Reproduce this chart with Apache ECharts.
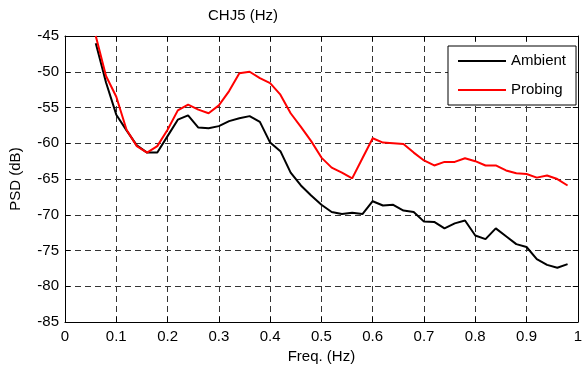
<!DOCTYPE html>
<html>
<head>
<meta charset="utf-8">
<script src="https://cdn.jsdelivr.net/npm/echarts@6/dist/echarts.min.js"></script>
<style>html,body{margin:0;padding:0;background:#fff}#c{width:585px;height:369px}</style>
</head>
<body>
<div id="c"></div>
<script>
const freq = [0.06,0.08,0.10,0.12,0.14,0.16,0.18,0.20,0.22,0.24,0.26,0.28,0.30,0.32,0.34,0.36,0.38,0.40,0.42,0.44,0.46,0.48,0.50,0.52,0.54,0.56,0.58,0.60,0.62,0.64,0.66,0.68,0.70,0.72,0.74,0.76,0.78,0.80,0.82,0.84,0.86,0.88,0.90,0.92,0.94,0.96,0.98];
const ambient = [-46,-51.5,-56,-58.2,-60.3,-61.3,-61.3,-59.0,-56.7,-56.1,-57.8,-57.9,-57.6,-56.9,-56.5,-56.2,-57.0,-59.9,-61.1,-64.1,-65.9,-67.3,-68.6,-69.6,-69.9,-69.7,-69.9,-68.1,-68.7,-68.6,-69.4,-69.6,-70.95,-71.0,-71.9,-71.2,-70.8,-72.9,-73.4,-71.9,-73.0,-74.1,-74.5,-76.2,-77.0,-77.4,-76.9];
const probing = [-45,-50.6,-53.5,-58.1,-60.4,-61.3,-60.4,-58.1,-55.4,-54.6,-55.3,-55.8,-54.7,-52.7,-50.2,-50.0,-50.9,-51.6,-53.2,-55.8,-57.7,-59.7,-62.0,-63.4,-64.1,-64.9,-62.1,-59.3,-59.9,-60.0,-60.1,-61.3,-62.4,-63.1,-62.6,-62.6,-62.1,-62.5,-63.1,-63.1,-63.8,-64.2,-64.3,-64.8,-64.5,-65.0,-65.9];
const seriesNames = ['Ambient','Probing'];
const titleText = 'CHJ5 (Hz)';
const xName = 'Freq. (Hz)';
const yName = 'PSD (dB)';

const FONT = '"Liberation Sans", Arial, sans-serif';
const chart = echarts.init(document.getElementById('c'), null, {renderer:'canvas'});
const gridDash = {show:true, lineStyle:{color:'#333', width:1, type:[6,4]}};
const tick = {show:true, inside:true, length:5, lineStyle:{color:'#000', width:1}};
const line = {show:true, onZero:false, lineStyle:{color:'#000', width:1}};
chart.setOption({
  animation:false,
  backgroundColor:'#fff',
  title:{text:titleText, left:208, top:8, padding:0,
    textStyle:{fontFamily:FONT, fontSize:15, fontWeight:'normal', color:'#000'}},
  legend:{
    data:seriesNames.map(n=>({name:n, icon:'rect'})),
    orient:'vertical', left:448, top:46,
    itemWidth:48, itemHeight:2, itemGap:13,
    padding:[7,10,7,10],
    borderColor:'#000', borderWidth:1, backgroundColor:'#fff',
    textStyle:{fontFamily:FONT, fontSize:15, color:'#000', lineHeight:16}
  },
  grid:{left:63, right:2, top:36, bottom:45, containLabel:false},
  xAxis:[{
    type:'value', min:0, max:1, interval:0.1,
    name:xName, nameLocation:'middle', nameGap:23,
    nameTextStyle:{fontFamily:FONT, fontSize:15, color:'#000'},
    axisLine:line, axisTick:tick,
    axisLabel:{fontFamily:FONT, fontSize:15, color:'#000', margin:7,
      formatter:v=>String(+v.toFixed(1))},
    splitLine:gridDash
  },{
    type:'value', min:0, max:1, interval:0.1, position:'top',
    axisLine:line, axisTick:tick, axisLabel:{show:false}, splitLine:{show:false}
  }],
  yAxis:[{
    type:'value', min:-85, max:-45, interval:5,
    name:yName, nameLocation:'middle', nameGap:42,
    nameTextStyle:{fontFamily:FONT, fontSize:15, color:'#000'},
    axisLine:line, axisTick:tick,
    axisLabel:{fontFamily:FONT, fontSize:15, color:'#000', margin:6},
    splitLine:gridDash
  },{
    type:'value', min:-85, max:-45, interval:5, position:'right',
    axisLine:line, axisTick:tick, axisLabel:{show:false}, splitLine:{show:false}
  }],
  series:[{
    name:seriesNames[0], type:'line', xAxisIndex:0, yAxisIndex:0,
    data:freq.map((f,i)=>[f, ambient[i]]),
    showSymbol:false, lineStyle:{color:'#000', width:2}, itemStyle:{color:'#000'}, z:3
  },{
    name:seriesNames[1], type:'line', xAxisIndex:0, yAxisIndex:0,
    data:freq.map((f,i)=>[f, probing[i]]),
    showSymbol:false, lineStyle:{color:'#ff0000', width:2}, itemStyle:{color:'#ff0000'}, z:4
  }]
});
</script>
</body>
</html>
